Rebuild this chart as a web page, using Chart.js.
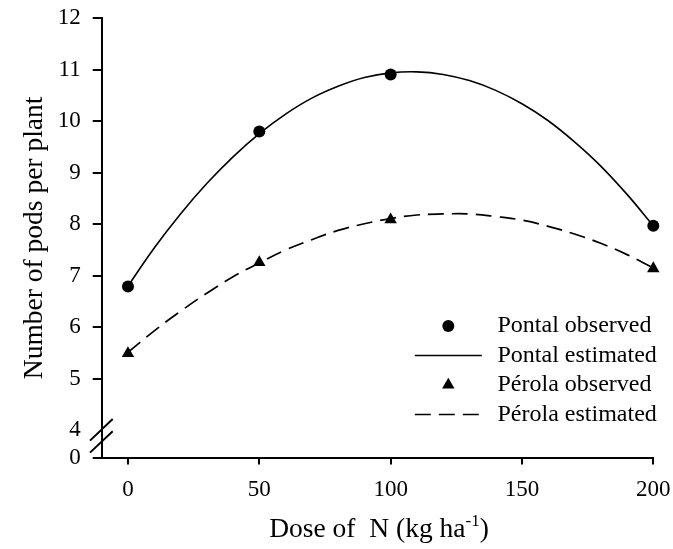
<!DOCTYPE html>
<html><head><meta charset="utf-8">
<script src="https://cdn.jsdelivr.net/npm/chart.js@4/dist/chart.umd.min.js"></script>
<style>html,body{margin:0;padding:0;background:#fff}canvas{display:block}</style>
</head><body>
<canvas id="c" width="673" height="549"></canvas>
<script>
// ---- data ----
const doses = [0, 50, 100, 200];
const pontalObserved = [6.79, 9.80, 10.91, 7.97];
const perolaObserved = [5.49, 7.26, 8.09, 7.14];
const curveDoses = [0, 10, 20, 30, 40, 50, 60, 70, 80, 90, 100, 110, 120, 130, 140, 150, 160, 170, 180, 190, 200];
const pontalEstimated = [6.80, 7.54, 8.20, 8.79, 9.31, 9.76, 10.14, 10.45, 10.68, 10.85, 10.94, 10.96, 10.91, 10.79, 10.60, 10.34, 10.01, 9.60, 9.13, 8.58, 7.97];
const perolaEstimated = [5.51, 5.93, 6.31, 6.66, 6.98, 7.25, 7.50, 7.70, 7.88, 8.01, 8.11, 8.18, 8.20, 8.20, 8.15, 8.08, 7.96, 7.81, 7.63, 7.41, 7.15];
const xTicks = [0, 50, 100, 150, 200];
const yTicks = [4, 5, 6, 7, 8, 9, 10, 11, 12];
const yBrokenLabel = '0';
const seriesLabels = ['Pontal observed', 'Pontal estimated', 'Pérola observed', 'Pérola estimated'];
const xTitleMain = 'Dose of  N (kg ha';
const xTitleSup = '-1';
const xTitleEnd = ')';
const yTitle = 'Number of pods per plant';

// ---- config ----
const FONT = '"Liberation Serif", "Times New Roman", serif';
const Y_AXIS_BOTTOM = 3.47; // broken axis: bottom of axis stands for 0
const INK = '#000';

const toPts = (xs, ys) => xs.map((x, i) => ({x: x, y: ys[i]}));

const decorPlugin = {
  id: 'decor',
  afterDraw(chart) {
    const ctx = chart.ctx;
    const ca = chart.chartArea;
    const ys = chart.scales.y;
    // axis break marks
    const ax = ca.left;
    const yb = ys.getPixelForValue(4);
    ctx.save();
    ctx.strokeStyle = INK;
    ctx.lineWidth = 2;
    ctx.beginPath();
    ctx.moveTo(ax - 11.7, yb + 10.4); ctx.lineTo(ax + 11, yb - 11.3);
    ctx.moveTo(ax - 11.7, yb + 22.4); ctx.lineTo(ax + 11, yb + 1);
    ctx.stroke();
    ctx.restore();

    // x title with superscript
    ctx.save();
    ctx.fillStyle = INK;
    ctx.textBaseline = 'alphabetic';
    ctx.textAlign = 'left';
    const mainFont = '27.5px ' + FONT;
    const supFont = '17px ' + FONT;
    ctx.font = mainFont;
    const w1 = ctx.measureText(xTitleMain).width;
    const w3 = ctx.measureText(xTitleEnd).width;
    ctx.font = supFont;
    const w2 = ctx.measureText(xTitleSup).width;
    const total = w1 + w2 + w3;
    const cx = (ca.left + ca.right) / 2 + 1.5;
    let x0 = cx - total / 2;
    const base = chart.height - 12.3;
    ctx.font = mainFont;
    ctx.fillText(xTitleMain, x0, base);
    ctx.font = supFont;
    ctx.fillText(xTitleSup, x0 + w1, base - 10.5);
    ctx.font = mainFont;
    ctx.fillText(xTitleEnd, x0 + w1 + w2, base);
    ctx.restore();

    // legend inside plot
    ctx.save();
    const rowY0 = ca.top + 307.7;
    const rowStep = 29.5;
    const symX = ca.right - 205;
    const lineX1 = ca.right - 238.5, lineX2 = ca.right - 171.5;
    const textX = ca.right - 155.8;
    chart.data.datasets.forEach((ds, i) => {
      const y = rowY0 + i * rowStep;
      ctx.fillStyle = INK;
      ctx.strokeStyle = INK;
      if (ds.showLine === false) {
        Chart.helpers.drawPoint(ctx, {
          pointStyle: ds.pointStyle, radius: ds.pointRadius, rotation: 0, borderWidth: 0
        }, symX, y);
      } else {
        ctx.lineWidth = ds.borderWidth;
        ctx.setLineDash(ds.borderDash || []);
        ctx.beginPath();
        ctx.moveTo(lineX1, y); ctx.lineTo(lineX2, y);
        ctx.stroke();
        ctx.setLineDash([]);
      }
      ctx.font = '24px ' + FONT;
      ctx.textBaseline = 'middle';
      ctx.textAlign = 'left';
      ctx.fillText(ds.label, textX, y);
    });
    ctx.restore();
  }
};

new Chart(document.getElementById('c'), {
  type: 'scatter',
  data: {
    datasets: [
      {label: seriesLabels[0], data: toPts(doses, pontalObserved), showLine: false, clip: false,
       pointStyle: 'circle', pointRadius: 6, pointBackgroundColor: INK, pointBorderWidth: 0, order: 0},
      {label: seriesLabels[1], data: toPts(curveDoses, pontalEstimated), showLine: true, clip: false,
       borderColor: INK, borderWidth: 1.6, pointRadius: 0, tension: 0.4, order: 1},
      {label: seriesLabels[2], data: toPts(doses, perolaObserved), showLine: false, clip: false,
       pointStyle: 'triangle', pointRadius: 7.2, pointBackgroundColor: INK, pointBorderWidth: 0, order: 0},
      {label: seriesLabels[3], data: toPts(curveDoses, perolaEstimated), showLine: true, clip: false,
       borderColor: INK, borderWidth: 1.7, borderDash: [16, 8], pointRadius: 0, tension: 0.4, order: 1}
    ]
  },
  options: {
    responsive: false,
    animation: false,
    devicePixelRatio: 1,
    layout: {padding: {top: 18.3, right: 19.7, bottom: 0, left: 0}},
    plugins: {legend: {display: false}, tooltip: {enabled: false}},
    scales: {
      x: {
        type: 'linear', min: -10, max: 200,
        afterBuildTicks: s => { s.ticks = xTicks.map(v => ({value: v})); },
        afterFit: s => { s.height = 91.5; s.paddingLeft = 0; s.paddingRight = 0; },
        ticks: {font: {family: FONT, size: 23}, color: INK, padding: 12},
        grid: {drawOnChartArea: false, drawTicks: true, tickLength: 7, color: INK, lineWidth: 2},
        border: {display: true, color: INK, width: 2},
        title: {display: false}
      },
      y: {
        type: 'linear', min: Y_AXIS_BOTTOM, max: 12,
        afterBuildTicks: s => { s.ticks = [Y_AXIS_BOTTOM].concat(yTicks).map(v => ({value: v})); },
        afterFit: s => { s.width = 101.7; s.paddingTop = 0; s.paddingBottom = 0; },
        ticks: {
          font: {family: FONT, size: 23}, color: INK, padding: 12,
          callback: (v, i) => i === 0 ? yBrokenLabel : String(v)
        },
        grid: {
          drawOnChartArea: false, drawTicks: true, tickLength: 9, lineWidth: 2,
          color: c => (c.tick && c.tick.value === 4) ? 'rgba(0,0,0,0)' : INK
        },
        border: {display: true, color: INK, width: 2},
        title: {display: true, text: yTitle, color: INK, font: {family: FONT, size: 27.5}, padding: {top: 18, bottom: 0}}
      }
    }
  },
  plugins: [decorPlugin]
});
</script>
</body></html>
